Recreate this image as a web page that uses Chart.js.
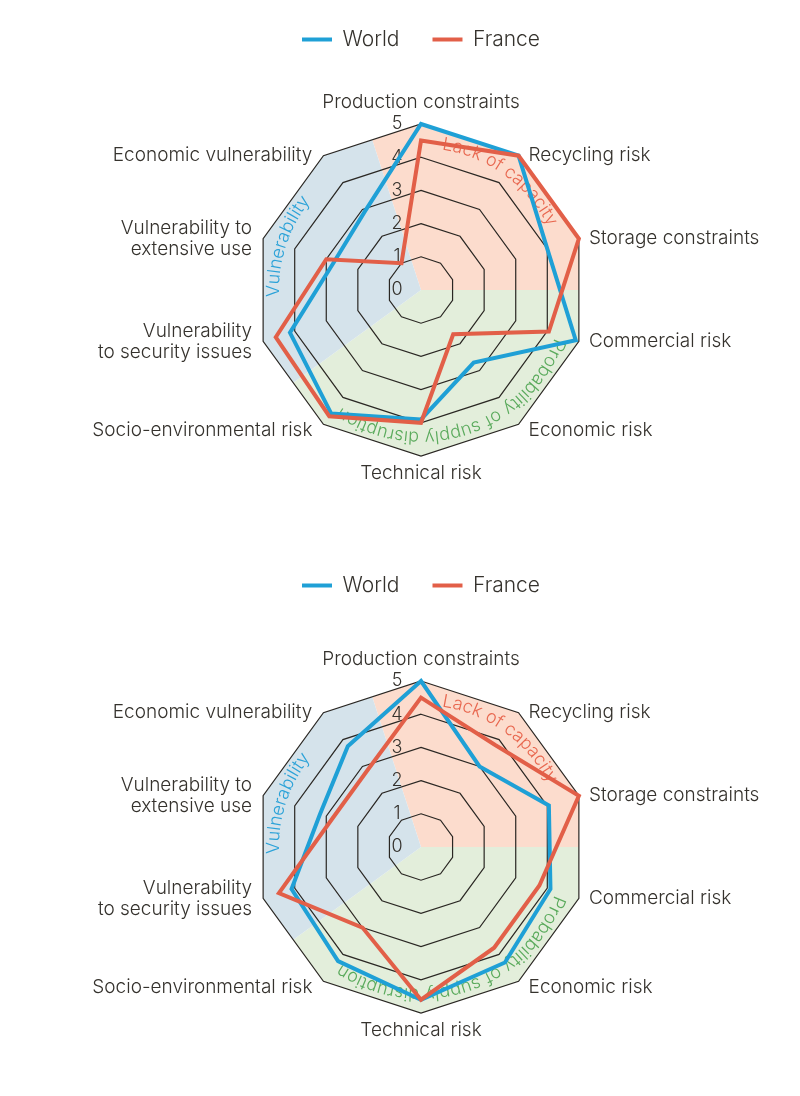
<!DOCTYPE html>
<html>
<head>
<meta charset="utf-8">
<script src="https://cdn.jsdelivr.net/npm/chart.js@4.4.1/dist/chart.umd.min.js"></script>
<style>
  body { margin: 0; background: #ffffff; }
  .bloco { width: 800px; position: relative; }
  canvas { display: block; }
</style>
</head>
<body>
<div class="bloco"><canvas id="radar-1" width="800" height="546"></canvas></div>
<div class="bloco"><canvas id="radar-2" width="800" height="550"></canvas></div>
<script>
// Axes of the radar (multi-line labels as arrays)
const categories = [
    'Production constraints',
    'Recycling risk',
    'Storage constraints',
    'Commercial risk',
    'Economic risk',
    'Technical risk',
    'Socio-environmental risk',
    ['Vulnerability', 'to security issues'],
    ['Vulnerability to', 'extensive use'],
    'Economic vulnerability'
];

// Values
const worldTop = [5, 5, 4, 4.9, 2.7, 3.9, 4.6, 4.15, 2.75, 2.9];
const franceTop = [4.5, 5, 5, 4.05, 1.65, 4, 4.7, 4.6, 3, 1];
const worldBottom = [5, 3, 4.05, 4.1, 4.3, 4.6, 4.25, 4.1, 3.2, 3.75];
const franceBottom = [4.5, 3.8, 5, 3.75, 3.75, 4.6, 3, 4.5, 2.8, 2.8];

const seriesNames = ['World', 'France'];
const tickLabels = ['0', '1', '2', '3', '4', '5'];

// Groups of axes shown as coloured sectors (first axis, last axis)
const groupNames = ['Lack of capacity', 'Probability of supply disruption', 'Vulnerability'];
const groupFirstAxis = [0, 3, 7];
const groupLastAxis = [2, 6, 9];

const corTexto = '#35322d';
const corGrade = '#2a2723';
const corWorld = '#1fa0d6';
const corFrance = '#e25f48';
const coresSetor = ['#fcdccd', '#e3eedb', '#d5e3eb'];
const coresGrupo = ['#e8674f', '#5aaa5c', '#2ba2d8'];
const fonte = 'Inter, "Noto Sans", sans-serif';

// Text along a circle, clockwise, letter tops pointing outward
function desenharTextoCurvo(ctx, texto, cx, cy, raio, anguloMeio) {
    const larguras = [...texto].map(ch => ctx.measureText(ch).width);
    const total = larguras.reduce((a, b) => a + b, 0);
    let angulo = anguloMeio - total / raio / 2;
    [...texto].forEach((ch, i) => {
        const a = angulo + larguras[i] / 2 / raio;
        ctx.save();
        ctx.translate(cx + raio * Math.sin(a), cy - raio * Math.cos(a));
        ctx.rotate(a);
        ctx.fillText(ch, 0, 0);
        ctx.restore();
        angulo += larguras[i] / raio;
    });
}

const decoracaoRadar = {
    id: 'decoracaoRadar',
    // coloured sectors, clipped to the outer ring
    beforeDraw(chart) {
        const scale = chart.scales.r;
        const ctx = chart.ctx;
        const cx = scale.xCenter, cy = scale.yCenter;
        const passo = Math.PI * 2 / categories.length;
        ctx.save();
        ctx.beginPath();
        categories.forEach((c, i) => {
            const p = scale.getPointPositionForValue(i, scale.max);
            if (i === 0) ctx.moveTo(p.x, p.y); else ctx.lineTo(p.x, p.y);
        });
        ctx.closePath();
        ctx.clip();
        groupNames.forEach((g, k) => {
            const a0 = scale.getIndexAngle(groupFirstAxis[k]) - passo / 2 - Math.PI / 2;
            let a1 = scale.getIndexAngle(groupLastAxis[k]) + passo / 2 - Math.PI / 2;
            if (a1 < a0) a1 += Math.PI * 2;
            ctx.beginPath();
            ctx.moveTo(cx, cy);
            ctx.arc(cx, cy, scale.drawingArea * 2, a0, a1);
            ctx.closePath();
            ctx.fillStyle = coresSetor[k];
            ctx.fill();
        });
        ctx.restore();
    },
    // group names and tick labels, under the lines
    beforeDatasetsDraw(chart) {
        const scale = chart.scales.r;
        const ctx = chart.ctx;
        const cx = scale.xCenter, cy = scale.yCenter;
        const passo = Math.PI * 2 / categories.length;
        ctx.save();
        ctx.font = '350 18px ' + fonte;
        ctx.textAlign = 'center';
        ctx.textBaseline = 'alphabetic';
        groupNames.forEach((g, k) => {
            const a0 = scale.getIndexAngle(groupFirstAxis[k]) - passo / 2;
            let a1 = scale.getIndexAngle(groupLastAxis[k]) + passo / 2;
            if (a1 < a0) a1 += Math.PI * 2;
            ctx.fillStyle = coresGrupo[k];
            desenharTextoCurvo(ctx, g, cx, cy, scale.drawingArea - 24, (a0 + a1) / 2);
        });
        ctx.fillStyle = corTexto;
        ctx.textBaseline = 'middle';
        tickLabels.forEach((t, v) => {
            ctx.fillText(t, cx - 24, cy - scale.getDistanceFromCenterForValue(v));
        });
        ctx.restore();
    },
    // axis names around the outer ring
    afterDraw(chart) {
        const scale = chart.scales.r;
        const ctx = chart.ctx;
        ctx.save();
        ctx.font = '350 19px ' + fonte;
        ctx.fillStyle = corTexto;
        ctx.textBaseline = 'middle';
        const alturaLinha = 21;
        categories.forEach((c, i) => {
            const linhas = Array.isArray(c) ? c : [c];
            const p = scale.getPointPositionForValue(i, scale.max);
            const graus = i * 360 / categories.length;
            let x = p.x, y = p.y;
            if (graus === 0) {
                ctx.textAlign = 'center'; y -= 22;
            } else if (graus === 180) {
                ctx.textAlign = 'center'; y += 17;
            } else if (graus < 180) {
                ctx.textAlign = 'left'; x += 10;
            } else {
                ctx.textAlign = 'right'; x -= 11;
            }
            if (Math.cos(graus * Math.PI / 180) < -0.5 && graus !== 180) y += 6;
            const y0 = y - (linhas.length - 1) * alturaLinha / 2;
            linhas.forEach((l, j) => ctx.fillText(l, x, y0 + j * alturaLinha));
        });
        ctx.restore();
    }
};

function criarRadar(idCanvas, valoresWorld, valoresFrance, paddingBottom) {
    const ctx = document.getElementById(idCanvas).getContext('2d');
    return new Chart(ctx, {
        type: 'radar',
        data: {
            labels: categories,
            datasets: [{
                label: seriesNames[0],
                data: valoresWorld,
                borderColor: corWorld,
                backgroundColor: 'rgba(0,0,0,0)',
                borderWidth: 4,
                pointRadius: 0,
                pointHoverRadius: 0,
                fill: false,
                order: 1
            }, {
                label: seriesNames[1],
                data: valoresFrance,
                borderColor: corFrance,
                backgroundColor: 'rgba(0,0,0,0)',
                borderWidth: 4,
                pointRadius: 0,
                pointHoverRadius: 0,
                fill: false,
                order: 0 // France drawn over World
            }]
        },
        options: {
            responsive: false,
            animation: false,
            layout: {
                padding: { left: 255, right: 213, top: -4, bottom: paddingBottom }
            },
            plugins: {
                legend: {
                    display: true,
                    position: 'top',
                    labels: {
                        boxWidth: 30,
                        boxHeight: 4,
                        padding: 33,
                        color: corTexto,
                        font: { family: fonte, size: 21, weight: '350' },
                        generateLabels(chart) {
                            return chart.data.datasets.map((ds, i) => ({
                                text: ds.label,
                                fillStyle: ds.borderColor,
                                strokeStyle: ds.borderColor,
                                lineWidth: 0,
                                fontColor: corTexto,
                                hidden: !chart.isDatasetVisible(i),
                                datasetIndex: i
                            }));
                        }
                    }
                },
                tooltip: { enabled: false }
            },
            scales: {
                r: {
                    min: 0,
                    max: 5,
                    ticks: { stepSize: 1, display: false },
                    pointLabels: { display: false },
                    angleLines: { display: false },
                    grid: { color: corGrade, lineWidth: 1.2 }
                }
            }
        },
        plugins: [decoracaoRadar]
    });
}

criarRadar('radar-1', worldTop, franceTop, 25);
criarRadar('radar-2', worldBottom, franceBottom, 7);
</script>
</body>
</html>
